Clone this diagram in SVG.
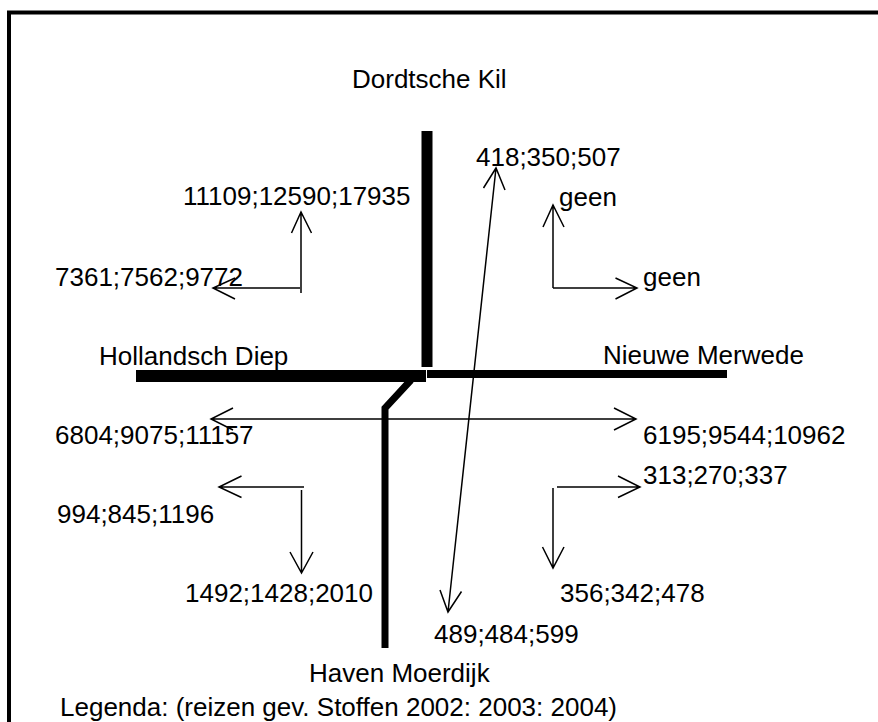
<svg xmlns="http://www.w3.org/2000/svg" width="878" height="722" viewBox="0 0 878 722">
<style>
text{font-family:"Liberation Sans",Arial,sans-serif;font-size:26px;fill:#000}
.thin{fill:none;stroke:#000;stroke-width:1.5}
.river{fill:none;stroke:#000}
</style>
<rect x="0" y="0" width="878" height="722" fill="#fff"/>
<rect x="9" y="12.5" width="900" height="800" fill="none" stroke="#000" stroke-width="4"/>
<g id="rivers">
<g id="dordtsche-kil"><line class="river" x1="427" y1="131" x2="427" y2="367" stroke-width="11"/><text x="352" y="88">Dordtsche Kil</text></g>
<g id="hollandsch-diep"><line class="river" x1="136" y1="376" x2="426" y2="376" stroke-width="12"/><text x="99" y="365">Hollandsch Diep</text></g>
<g id="nieuwe-merwede"><line class="river" x1="427" y1="374" x2="727" y2="374" stroke-width="8"/><text x="603" y="364">Nieuwe Merwede</text></g>
<g id="haven-moerdijk"><polyline class="river" points="411,380 385,408 385,648" stroke-width="7"/><text x="309" y="682">Haven Moerdijk</text></g>
</g>
<g id="connectors">
<path class="thin" d="M211,419 H636 M233,408 L211,419 L233,430 M614,408 L636,419 L614,430"/>
<path class="thin" d="M301,293 V212 M291.5,233 L301,212 L311.5,233 M300,288 H213 M235,278 L213,288 L235,299"/>
<path class="thin" d="M553,288 V205 M543,227 L553,205 L564,227 M553,288 H637 M615.5,278 L637,288 L615.5,299"/>
<path class="thin" d="M496,168 L448,612 M483.5,188 L496,168 L505,190 M440,590 L448,612 L461.5,591.5"/>
<path class="thin" d="M304,487 H219 M241.5,476 L219,487 L241.5,497.5 M301.5,490 V573 M290,552 L301.5,573 L313,552"/>
<path class="thin" d="M557,487 H640 M618,476 L640,487 L618,497.5 M553,488 V568 M542.5,547 L553,568 L564,547"/>
</g>
<g id="labels">
<text x="476" y="166">418;350;507</text>
<text x="183" y="205">11109;12590;17935</text>
<text x="559" y="206">geen</text>
<text x="643" y="286">geen</text>
<text x="55" y="286">7361;7562;9772</text>
<text x="55" y="444">6804;9075;11157</text>
<text x="643" y="444">6195;9544;10962</text>
<text x="643" y="484">313;270;337</text>
<text x="57" y="523">994;845;1196</text>
<text x="185" y="602">1492;1428;2010</text>
<text x="560" y="602">356;342;478</text>
<text x="434" y="643">489;484;599</text>
<text x="60" y="716">Legenda: (reizen gev. Stoffen 2002: 2003: 2004)</text>
</g>
</svg>
